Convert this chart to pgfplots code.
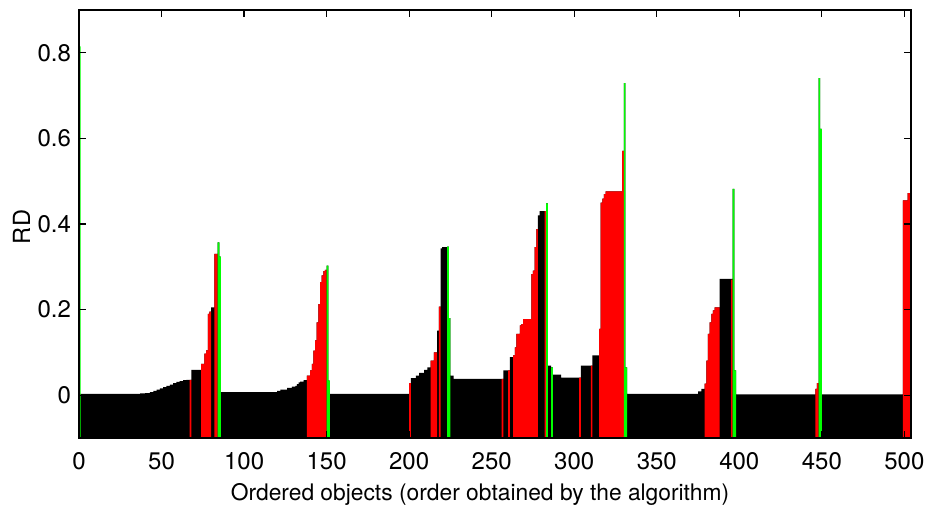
\documentclass[border=0pt]{standalone}
\usepackage{fontspec}
\setmainfont{TeX Gyre Heros}
\usepackage{pgfplots}
\pgfplotsset{compat=1.18}
\definecolor{rdred}{RGB}{255,0,0}
\definecolor{rdgreen}{RGB}{0,255,0}
\begin{document}
\begin{tikzpicture}[x=1pt,y=1pt]
\useasboundingbox (-39.5,-35.5) rectangle (426,219);
\begin{axis}[
  at={(0,0)}, anchor=south west, scale only axis,
  width=416pt, height=214pt,
  xmin=0, xmax=504, ymin=-0.1, ymax=0.9,
  xtick={0,50,...,500}, ytick={0,0.2,0.4,0.6,0.8},
  tick align=inside, major tick length=3.5pt,
  every tick/.style={black, line width=0.6pt},
  axis line style={line width=0.65pt},
  axis on top,
  /pgf/number format/assume math mode=true,
  tick label style={font=\fontsize{12}{14}\selectfont},
  xticklabel style={yshift=-3.7pt},
  yticklabel style={xshift=-0.5pt, /pgf/number format/fixed},
  xlabel={Ordered objects (order obtained by the algorithm)},
  ylabel={RD},
  every axis x label/.style={at={(axis description cs:0.482,-0.133)},anchor=center,font=\fontsize{11.4}{14}\selectfont},
  every axis y label/.style={at={(axis description cs:-0.069,0.493)},rotate=90,anchor=center,font=\fontsize{11.8}{14}\selectfont},
]
% full reachability profile (black)
\addplot[const plot, fill=black, draw=none] coordinates {
(0,-0.1) (0,0.003) (37,0.004) (40,0.005) (43,0.007) (45,0.010) (47,0.013) (49,0.016)
(51,0.019) (53,0.022) (55,0.025) (57,0.028) (59,0.031) (61,0.033) (63,0.035) (65,0.036)
(68,0.059) (74,0.073) (76,0.097) (77,0.105) (78,0.19) (79,0.195) (80,0.205) (82,0.33)
(84,0.357) (85,0.324) (86,0.007) (120,0.010) (122,0.013) (126,0.017) (129,0.020)
(131,0.022) (132,0.026) (133,0.030) (134,0.032) (136,0.035) (138,0.046) (140,0.058)
(141,0.073) (142,0.104) (143,0.128) (144,0.17) (145,0.213) (146,0.264) (147,0.28)
(148,0.29) (149,0.293) (150,0.303) (151,0.034) (152,0.003) (200,0.028) (201,0.040)
(204,0.046) (206,0.052) (209,0.059) (211,0.065) (213,0.081) (215,0.10) (217,0.151)
(218,0.207) (219,0.343) (220,0.346) (223,0.347) (224,0.18) (225,0.046) (227,0.038)
(257,0.058) (261,0.089) (263,0.093) (264,0.112) (265,0.143) (267,0.163) (268,0.166)
(269,0.178) (274,0.283) (275,0.291) (276,0.346) (277,0.388) (278,0.42) (279,0.43)
(283,0.448) (284,0.069) (286,0.065) (287,0.048) (292,0.041) (304,0.069) (311,0.093)
(315,0.155) (316,0.45) (317,0.459) (318,0.47) (319,0.476) (329,0.571) (330,0.729)
(331,0.065) (332,0.003) (375,0.009) (377,0.015) (379,0.027) (380,0.081) (381,0.143)
(382,0.17) (383,0.19) (384,0.198) (385,0.205) (388,0.272) (396,0.482) (397,0.058)
(398,0.002) (446,0.015) (447,0.028) (448,0.741) (449,0.622) (450,0.002) (499,0.455)
(502,0.472) (504,0.472) (504,-0.1)
};
% red objects
\addplot[const plot, fill=rdred, draw=none] coordinates {
(67,-0.1) (67,0.036) (68,0.036) (68,-0.1)
(74,-0.1) (74,0.073) (76,0.097) (77,0.105) (78,0.19) (79,0.195) (80,0.195) (80,-0.1)
(82,-0.1) (82,0.33) (84,0.33) (84,-0.1)
(138,-0.1) (138,0.046) (140,0.058) (141,0.073) (142,0.104) (143,0.128) (144,0.17)
(145,0.213) (146,0.264) (147,0.28) (148,0.29) (149,0.293) (150,0.293) (150,-0.1)
(200,-0.1) (200,0.028) (201,0.028) (201,-0.1)
(213,-0.1) (213,0.081) (215,0.10) (217,0.10) (217,-0.1)
(218,-0.1) (218,0.207) (219,0.207) (219,-0.1)
(256,-0.1) (256,0.038) (257,0.038) (257,-0.1)
(260,-0.1) (260,0.058) (261,0.058) (261,-0.1)
(263,-0.1) (263,0.093) (264,0.112) (265,0.143) (267,0.163) (268,0.166) (269,0.178)
(274,0.283) (275,0.291) (276,0.346) (277,0.388) (278,0.388) (278,-0.1)
(282,-0.1) (282,0.43) (283,0.43) (283,-0.1)
(303,-0.1) (303,0.041) (304,0.041) (304,-0.1)
(310,-0.1) (310,0.069) (311,0.069) (311,-0.1)
(315,-0.1) (315,0.155) (316,0.45) (317,0.459) (318,0.47) (319,0.476) (329,0.571)
(330,0.571) (330,-0.1)
(379,-0.1) (379,0.027) (380,0.081) (381,0.143) (382,0.17) (383,0.19) (384,0.198)
(385,0.205) (388,0.205) (388,-0.1)
(395,-0.1) (395,0.27) (396,0.27) (396,-0.1)
(446,-0.1) (446,0.015) (447,0.028) (448,0.028) (448,-0.1)
(499,-0.1) (499,0.455) (502,0.472) (504,0.472) (504,-0.1)
};
% green objects
\addplot[const plot, fill=rdgreen, draw=none] coordinates {
(0,-0.1) (0,0.815) (1,0.815) (1,-0.1)
(84,-0.1) (84,0.357) (85,0.324) (86,0.324) (86,-0.1)
(150,-0.1) (150,0.303) (151,0.034) (152,0.034) (152,-0.1)
(223,-0.1) (223,0.347) (224,0.18) (225,0.18) (225,-0.1)
(283,-0.1) (283,0.448) (284,0.448) (284,-0.1)
(286,-0.1) (286,0.065) (287,0.065) (287,-0.1)
(330,-0.1) (330,0.729) (331,0.065) (332,0.065) (332,-0.1)
(396,-0.1) (396,0.482) (397,0.058) (398,0.058) (398,-0.1)
(448,-0.1) (448,0.741) (449,0.622) (450,0.622) (450,-0.1)
};
\end{axis}
\end{tikzpicture}
\end{document}
